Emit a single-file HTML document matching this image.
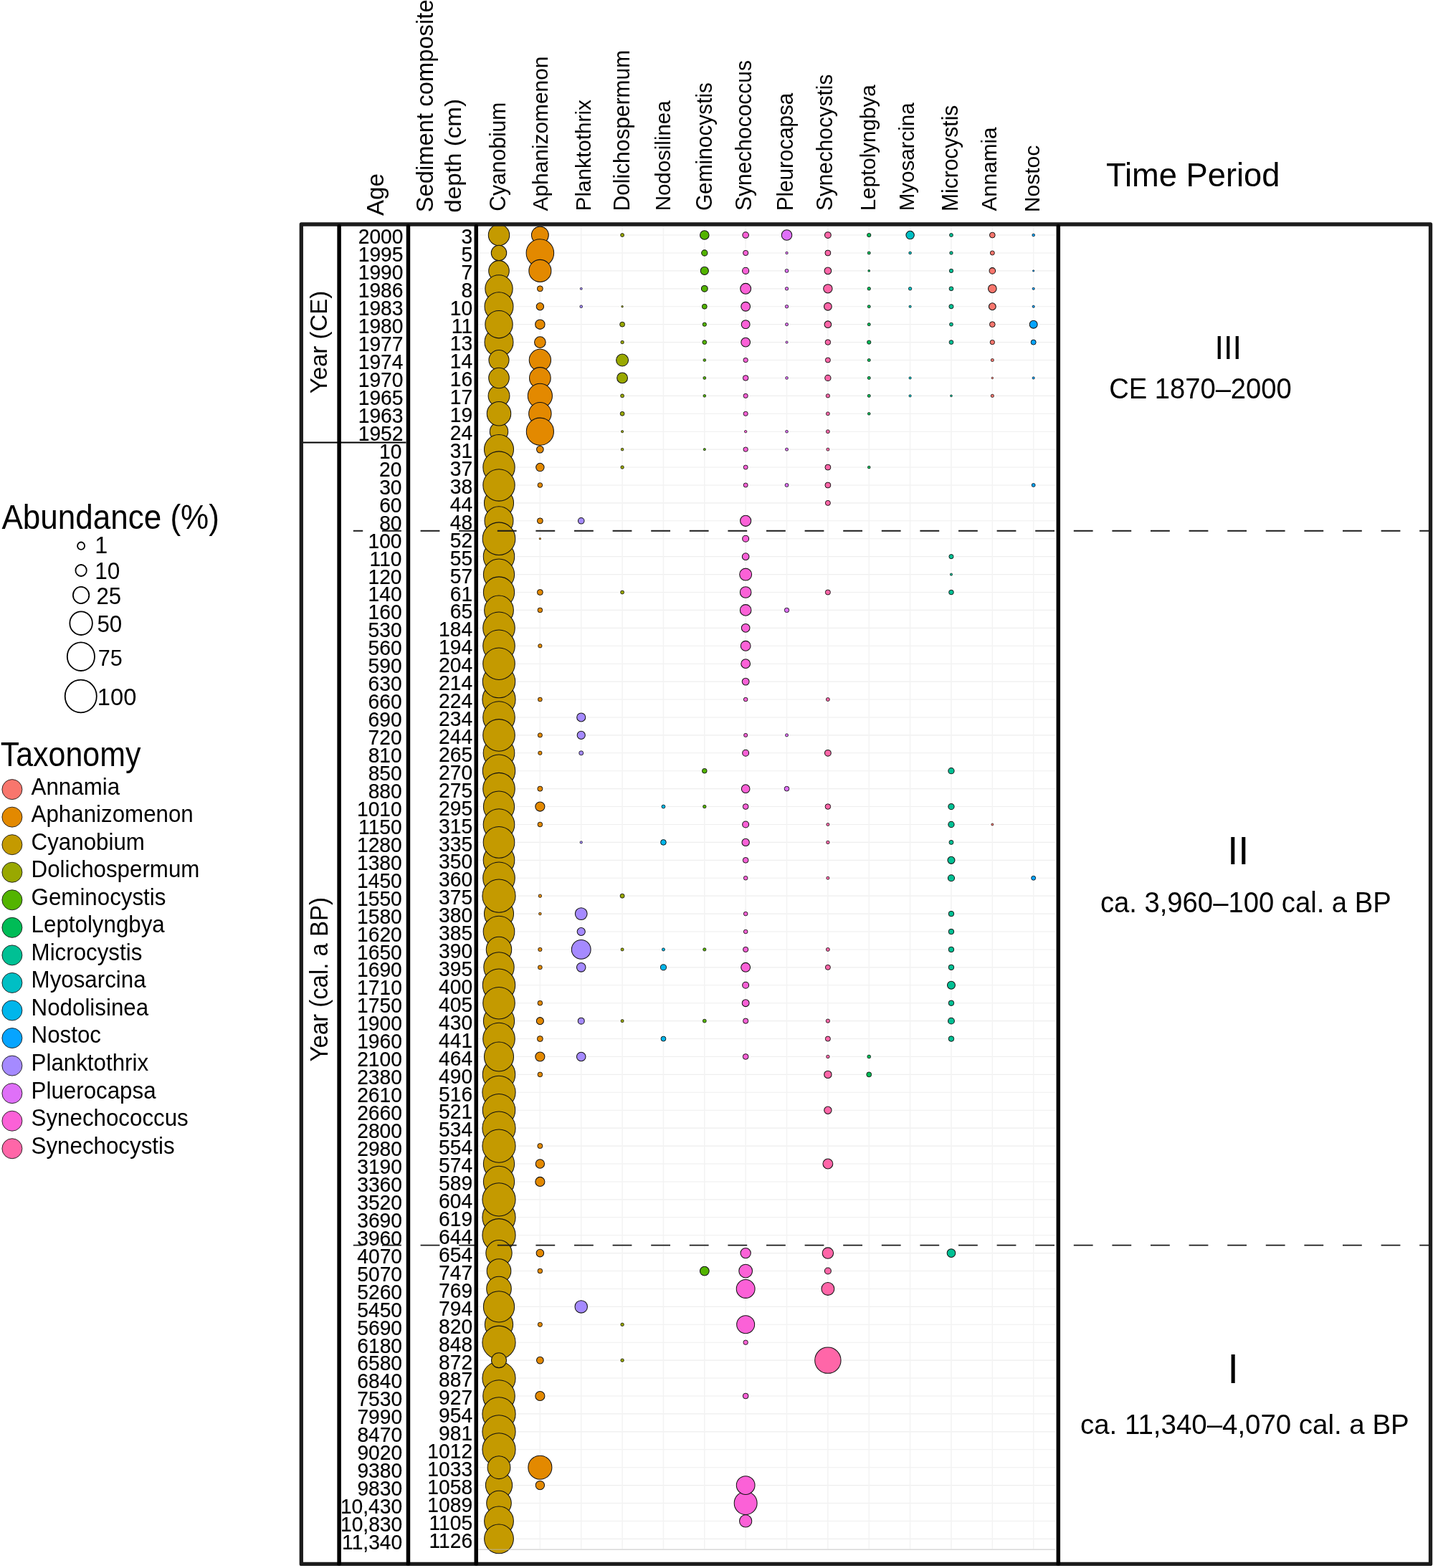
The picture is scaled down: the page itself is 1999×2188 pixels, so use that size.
<!DOCTYPE html>
<html><head><meta charset="utf-8"><title>Cyanobacteria abundance</title><style>html,body{margin:0;padding:0;background:#fff;}svg{display:block;}</style></head><body>
<svg width="1999" height="2188" viewBox="0 0 1999 2188" font-family='"Liberation Sans", Arial, Helvetica, sans-serif'>
<rect x="0" y="0" width="1999" height="2188" fill="#fff"/>
<g id="grid">
<line x1="667.5" y1="328.06" x2="1472.0" y2="328.06" stroke="#eeeeee" stroke-width="1.1"/>
<line x1="667.5" y1="352.98" x2="1472.0" y2="352.98" stroke="#eeeeee" stroke-width="1.1"/>
<line x1="667.5" y1="377.90" x2="1472.0" y2="377.90" stroke="#eeeeee" stroke-width="1.1"/>
<line x1="667.5" y1="402.83" x2="1472.0" y2="402.83" stroke="#eeeeee" stroke-width="1.1"/>
<line x1="667.5" y1="427.75" x2="1472.0" y2="427.75" stroke="#eeeeee" stroke-width="1.1"/>
<line x1="667.5" y1="452.67" x2="1472.0" y2="452.67" stroke="#eeeeee" stroke-width="1.1"/>
<line x1="667.5" y1="477.59" x2="1472.0" y2="477.59" stroke="#eeeeee" stroke-width="1.1"/>
<line x1="667.5" y1="502.51" x2="1472.0" y2="502.51" stroke="#eeeeee" stroke-width="1.1"/>
<line x1="667.5" y1="527.44" x2="1472.0" y2="527.44" stroke="#eeeeee" stroke-width="1.1"/>
<line x1="667.5" y1="552.36" x2="1472.0" y2="552.36" stroke="#eeeeee" stroke-width="1.1"/>
<line x1="667.5" y1="577.28" x2="1472.0" y2="577.28" stroke="#eeeeee" stroke-width="1.1"/>
<line x1="667.5" y1="602.20" x2="1472.0" y2="602.20" stroke="#eeeeee" stroke-width="1.1"/>
<line x1="667.5" y1="627.12" x2="1472.0" y2="627.12" stroke="#eeeeee" stroke-width="1.1"/>
<line x1="667.5" y1="652.05" x2="1472.0" y2="652.05" stroke="#eeeeee" stroke-width="1.1"/>
<line x1="667.5" y1="676.97" x2="1472.0" y2="676.97" stroke="#eeeeee" stroke-width="1.1"/>
<line x1="667.5" y1="701.89" x2="1472.0" y2="701.89" stroke="#eeeeee" stroke-width="1.1"/>
<line x1="667.5" y1="726.81" x2="1472.0" y2="726.81" stroke="#eeeeee" stroke-width="1.1"/>
<line x1="667.5" y1="751.73" x2="1472.0" y2="751.73" stroke="#eeeeee" stroke-width="1.1"/>
<line x1="667.5" y1="776.66" x2="1472.0" y2="776.66" stroke="#eeeeee" stroke-width="1.1"/>
<line x1="667.5" y1="801.58" x2="1472.0" y2="801.58" stroke="#eeeeee" stroke-width="1.1"/>
<line x1="667.5" y1="826.50" x2="1472.0" y2="826.50" stroke="#eeeeee" stroke-width="1.1"/>
<line x1="667.5" y1="851.42" x2="1472.0" y2="851.42" stroke="#eeeeee" stroke-width="1.1"/>
<line x1="667.5" y1="876.34" x2="1472.0" y2="876.34" stroke="#eeeeee" stroke-width="1.1"/>
<line x1="667.5" y1="901.27" x2="1472.0" y2="901.27" stroke="#eeeeee" stroke-width="1.1"/>
<line x1="667.5" y1="926.19" x2="1472.0" y2="926.19" stroke="#eeeeee" stroke-width="1.1"/>
<line x1="667.5" y1="951.11" x2="1472.0" y2="951.11" stroke="#eeeeee" stroke-width="1.1"/>
<line x1="667.5" y1="976.03" x2="1472.0" y2="976.03" stroke="#eeeeee" stroke-width="1.1"/>
<line x1="667.5" y1="1000.95" x2="1472.0" y2="1000.95" stroke="#eeeeee" stroke-width="1.1"/>
<line x1="667.5" y1="1025.88" x2="1472.0" y2="1025.88" stroke="#eeeeee" stroke-width="1.1"/>
<line x1="667.5" y1="1050.80" x2="1472.0" y2="1050.80" stroke="#eeeeee" stroke-width="1.1"/>
<line x1="667.5" y1="1075.72" x2="1472.0" y2="1075.72" stroke="#eeeeee" stroke-width="1.1"/>
<line x1="667.5" y1="1100.64" x2="1472.0" y2="1100.64" stroke="#eeeeee" stroke-width="1.1"/>
<line x1="667.5" y1="1125.56" x2="1472.0" y2="1125.56" stroke="#eeeeee" stroke-width="1.1"/>
<line x1="667.5" y1="1150.49" x2="1472.0" y2="1150.49" stroke="#eeeeee" stroke-width="1.1"/>
<line x1="667.5" y1="1175.41" x2="1472.0" y2="1175.41" stroke="#eeeeee" stroke-width="1.1"/>
<line x1="667.5" y1="1200.33" x2="1472.0" y2="1200.33" stroke="#eeeeee" stroke-width="1.1"/>
<line x1="667.5" y1="1225.25" x2="1472.0" y2="1225.25" stroke="#eeeeee" stroke-width="1.1"/>
<line x1="667.5" y1="1250.17" x2="1472.0" y2="1250.17" stroke="#eeeeee" stroke-width="1.1"/>
<line x1="667.5" y1="1275.10" x2="1472.0" y2="1275.10" stroke="#eeeeee" stroke-width="1.1"/>
<line x1="667.5" y1="1300.02" x2="1472.0" y2="1300.02" stroke="#eeeeee" stroke-width="1.1"/>
<line x1="667.5" y1="1324.94" x2="1472.0" y2="1324.94" stroke="#eeeeee" stroke-width="1.1"/>
<line x1="667.5" y1="1349.86" x2="1472.0" y2="1349.86" stroke="#eeeeee" stroke-width="1.1"/>
<line x1="667.5" y1="1374.78" x2="1472.0" y2="1374.78" stroke="#eeeeee" stroke-width="1.1"/>
<line x1="667.5" y1="1399.71" x2="1472.0" y2="1399.71" stroke="#eeeeee" stroke-width="1.1"/>
<line x1="667.5" y1="1424.63" x2="1472.0" y2="1424.63" stroke="#eeeeee" stroke-width="1.1"/>
<line x1="667.5" y1="1449.55" x2="1472.0" y2="1449.55" stroke="#eeeeee" stroke-width="1.1"/>
<line x1="667.5" y1="1474.47" x2="1472.0" y2="1474.47" stroke="#eeeeee" stroke-width="1.1"/>
<line x1="667.5" y1="1499.39" x2="1472.0" y2="1499.39" stroke="#eeeeee" stroke-width="1.1"/>
<line x1="667.5" y1="1524.32" x2="1472.0" y2="1524.32" stroke="#eeeeee" stroke-width="1.1"/>
<line x1="667.5" y1="1549.24" x2="1472.0" y2="1549.24" stroke="#eeeeee" stroke-width="1.1"/>
<line x1="667.5" y1="1574.16" x2="1472.0" y2="1574.16" stroke="#eeeeee" stroke-width="1.1"/>
<line x1="667.5" y1="1599.08" x2="1472.0" y2="1599.08" stroke="#eeeeee" stroke-width="1.1"/>
<line x1="667.5" y1="1624.00" x2="1472.0" y2="1624.00" stroke="#eeeeee" stroke-width="1.1"/>
<line x1="667.5" y1="1648.93" x2="1472.0" y2="1648.93" stroke="#eeeeee" stroke-width="1.1"/>
<line x1="667.5" y1="1673.85" x2="1472.0" y2="1673.85" stroke="#eeeeee" stroke-width="1.1"/>
<line x1="667.5" y1="1698.77" x2="1472.0" y2="1698.77" stroke="#eeeeee" stroke-width="1.1"/>
<line x1="667.5" y1="1723.69" x2="1472.0" y2="1723.69" stroke="#eeeeee" stroke-width="1.1"/>
<line x1="667.5" y1="1748.61" x2="1472.0" y2="1748.61" stroke="#eeeeee" stroke-width="1.1"/>
<line x1="667.5" y1="1773.54" x2="1472.0" y2="1773.54" stroke="#eeeeee" stroke-width="1.1"/>
<line x1="667.5" y1="1798.46" x2="1472.0" y2="1798.46" stroke="#eeeeee" stroke-width="1.1"/>
<line x1="667.5" y1="1823.38" x2="1472.0" y2="1823.38" stroke="#eeeeee" stroke-width="1.1"/>
<line x1="667.5" y1="1848.30" x2="1472.0" y2="1848.30" stroke="#eeeeee" stroke-width="1.1"/>
<line x1="667.5" y1="1873.22" x2="1472.0" y2="1873.22" stroke="#eeeeee" stroke-width="1.1"/>
<line x1="667.5" y1="1898.15" x2="1472.0" y2="1898.15" stroke="#eeeeee" stroke-width="1.1"/>
<line x1="667.5" y1="1923.07" x2="1472.0" y2="1923.07" stroke="#eeeeee" stroke-width="1.1"/>
<line x1="667.5" y1="1947.99" x2="1472.0" y2="1947.99" stroke="#eeeeee" stroke-width="1.1"/>
<line x1="667.5" y1="1972.91" x2="1472.0" y2="1972.91" stroke="#eeeeee" stroke-width="1.1"/>
<line x1="667.5" y1="1997.83" x2="1472.0" y2="1997.83" stroke="#eeeeee" stroke-width="1.1"/>
<line x1="667.5" y1="2022.76" x2="1472.0" y2="2022.76" stroke="#eeeeee" stroke-width="1.1"/>
<line x1="667.5" y1="2047.68" x2="1472.0" y2="2047.68" stroke="#eeeeee" stroke-width="1.1"/>
<line x1="667.5" y1="2072.60" x2="1472.0" y2="2072.60" stroke="#eeeeee" stroke-width="1.1"/>
<line x1="667.5" y1="2097.52" x2="1472.0" y2="2097.52" stroke="#eeeeee" stroke-width="1.1"/>
<line x1="667.5" y1="2122.44" x2="1472.0" y2="2122.44" stroke="#eeeeee" stroke-width="1.1"/>
<line x1="667.5" y1="2147.37" x2="1472.0" y2="2147.37" stroke="#eeeeee" stroke-width="1.1"/>
<line x1="696.00" y1="316.0" x2="696.00" y2="2161.2" stroke="#f3f3f3" stroke-width="1.5"/>
<line x1="753.36" y1="316.0" x2="753.36" y2="2161.2" stroke="#f3f3f3" stroke-width="1.5"/>
<line x1="810.72" y1="316.0" x2="810.72" y2="2161.2" stroke="#f3f3f3" stroke-width="1.5"/>
<line x1="868.08" y1="316.0" x2="868.08" y2="2161.2" stroke="#f3f3f3" stroke-width="1.5"/>
<line x1="925.44" y1="316.0" x2="925.44" y2="2161.2" stroke="#f3f3f3" stroke-width="1.5"/>
<line x1="982.80" y1="316.0" x2="982.80" y2="2161.2" stroke="#f3f3f3" stroke-width="1.5"/>
<line x1="1040.16" y1="316.0" x2="1040.16" y2="2161.2" stroke="#f3f3f3" stroke-width="1.5"/>
<line x1="1097.52" y1="316.0" x2="1097.52" y2="2161.2" stroke="#f3f3f3" stroke-width="1.5"/>
<line x1="1154.88" y1="316.0" x2="1154.88" y2="2161.2" stroke="#f3f3f3" stroke-width="1.5"/>
<line x1="1212.24" y1="316.0" x2="1212.24" y2="2161.2" stroke="#f3f3f3" stroke-width="1.5"/>
<line x1="1269.60" y1="316.0" x2="1269.60" y2="2161.2" stroke="#f3f3f3" stroke-width="1.5"/>
<line x1="1326.96" y1="316.0" x2="1326.96" y2="2161.2" stroke="#f3f3f3" stroke-width="1.5"/>
<line x1="1384.32" y1="316.0" x2="1384.32" y2="2161.2" stroke="#f3f3f3" stroke-width="1.5"/>
<line x1="1441.68" y1="316.0" x2="1441.68" y2="2161.2" stroke="#f3f3f3" stroke-width="1.5"/>
</g>
<g id="halo" fill="#fff">
<circle cx="696.00" cy="328.06" r="17.45"/>
<circle cx="753.36" cy="328.06" r="14.65"/>
<circle cx="868.08" cy="328.06" r="5.10"/>
<circle cx="982.80" cy="328.06" r="9.00"/>
<circle cx="1040.16" cy="328.06" r="7.00"/>
<circle cx="1097.52" cy="328.06" r="10.00"/>
<circle cx="1154.88" cy="328.06" r="7.10"/>
<circle cx="1212.24" cy="328.06" r="5.30"/>
<circle cx="1269.60" cy="328.06" r="8.45"/>
<circle cx="1326.96" cy="328.06" r="5.10"/>
<circle cx="1384.32" cy="328.06" r="6.55"/>
<circle cx="1441.68" cy="328.06" r="4.45"/>
<circle cx="696.00" cy="352.98" r="13.45"/>
<circle cx="753.36" cy="352.98" r="22.00"/>
<circle cx="982.80" cy="352.98" r="6.85"/>
<circle cx="1040.16" cy="352.98" r="6.30"/>
<circle cx="1097.52" cy="352.98" r="4.30"/>
<circle cx="1154.88" cy="352.98" r="6.65"/>
<circle cx="1212.24" cy="352.98" r="4.65"/>
<circle cx="1269.60" cy="352.98" r="4.45"/>
<circle cx="1326.96" cy="352.98" r="4.85"/>
<circle cx="1384.32" cy="352.98" r="5.65"/>
<circle cx="696.00" cy="377.90" r="17.00"/>
<circle cx="753.36" cy="377.90" r="18.25"/>
<circle cx="982.80" cy="377.90" r="8.30"/>
<circle cx="1040.16" cy="377.90" r="7.30"/>
<circle cx="1097.52" cy="377.90" r="5.10"/>
<circle cx="1154.88" cy="377.90" r="7.55"/>
<circle cx="1212.24" cy="377.90" r="4.00"/>
<circle cx="1326.96" cy="377.90" r="5.30"/>
<circle cx="1384.32" cy="377.90" r="7.00"/>
<circle cx="1441.68" cy="377.90" r="3.75"/>
<circle cx="696.00" cy="402.83" r="21.90"/>
<circle cx="753.36" cy="402.83" r="6.65"/>
<circle cx="810.72" cy="402.83" r="4.10"/>
<circle cx="982.80" cy="402.83" r="7.10"/>
<circle cx="1040.16" cy="402.83" r="10.20"/>
<circle cx="1097.52" cy="402.83" r="4.85"/>
<circle cx="1154.88" cy="402.83" r="8.90"/>
<circle cx="1212.24" cy="402.83" r="4.85"/>
<circle cx="1269.60" cy="402.83" r="4.85"/>
<circle cx="1326.96" cy="402.83" r="5.55"/>
<circle cx="1384.32" cy="402.83" r="8.55"/>
<circle cx="1441.68" cy="402.83" r="4.20"/>
<circle cx="696.00" cy="427.75" r="22.70"/>
<circle cx="753.36" cy="427.75" r="7.90"/>
<circle cx="810.72" cy="427.75" r="4.45"/>
<circle cx="868.08" cy="427.75" r="3.85"/>
<circle cx="982.80" cy="427.75" r="6.10"/>
<circle cx="1040.16" cy="427.75" r="9.10"/>
<circle cx="1097.52" cy="427.75" r="4.85"/>
<circle cx="1154.88" cy="427.75" r="8.10"/>
<circle cx="1212.24" cy="427.75" r="4.65"/>
<circle cx="1269.60" cy="427.75" r="4.20"/>
<circle cx="1326.96" cy="427.75" r="5.75"/>
<circle cx="1384.32" cy="427.75" r="7.65"/>
<circle cx="1441.68" cy="427.75" r="4.20"/>
<circle cx="696.00" cy="452.67" r="21.90"/>
<circle cx="753.36" cy="452.67" r="9.45"/>
<circle cx="868.08" cy="452.67" r="6.10"/>
<circle cx="982.80" cy="452.67" r="5.30"/>
<circle cx="1040.16" cy="452.67" r="8.65"/>
<circle cx="1097.52" cy="452.67" r="4.65"/>
<circle cx="1154.88" cy="452.67" r="7.55"/>
<circle cx="1212.24" cy="452.67" r="4.65"/>
<circle cx="1326.96" cy="452.67" r="5.10"/>
<circle cx="1384.32" cy="452.67" r="6.55"/>
<circle cx="1441.68" cy="452.67" r="8.20"/>
<circle cx="696.00" cy="477.59" r="22.70"/>
<circle cx="753.36" cy="477.59" r="10.55"/>
<circle cx="868.08" cy="477.59" r="4.85"/>
<circle cx="982.80" cy="477.59" r="5.55"/>
<circle cx="1040.16" cy="477.59" r="9.10"/>
<circle cx="1097.52" cy="477.59" r="4.20"/>
<circle cx="1154.88" cy="477.59" r="6.45"/>
<circle cx="1212.24" cy="477.59" r="5.30"/>
<circle cx="1326.96" cy="477.59" r="5.55"/>
<circle cx="1384.32" cy="477.59" r="5.85"/>
<circle cx="1441.68" cy="477.59" r="6.20"/>
<circle cx="696.00" cy="502.51" r="16.80"/>
<circle cx="753.36" cy="502.51" r="17.90"/>
<circle cx="868.08" cy="502.51" r="11.20"/>
<circle cx="982.80" cy="502.51" r="4.45"/>
<circle cx="1040.16" cy="502.51" r="5.85"/>
<circle cx="1154.88" cy="502.51" r="6.20"/>
<circle cx="1212.24" cy="502.51" r="4.65"/>
<circle cx="1384.32" cy="502.51" r="4.65"/>
<circle cx="696.00" cy="527.44" r="17.00"/>
<circle cx="753.36" cy="527.44" r="17.55"/>
<circle cx="868.08" cy="527.44" r="10.10"/>
<circle cx="982.80" cy="527.44" r="4.55"/>
<circle cx="1040.16" cy="527.44" r="6.45"/>
<circle cx="1097.52" cy="527.44" r="4.45"/>
<circle cx="1154.88" cy="527.44" r="6.85"/>
<circle cx="1212.24" cy="527.44" r="4.65"/>
<circle cx="1269.60" cy="527.44" r="4.20"/>
<circle cx="1384.32" cy="527.44" r="3.85"/>
<circle cx="1441.68" cy="527.44" r="4.20"/>
<circle cx="696.00" cy="552.36" r="17.65"/>
<circle cx="753.36" cy="552.36" r="19.80"/>
<circle cx="868.08" cy="552.36" r="5.10"/>
<circle cx="982.80" cy="552.36" r="4.45"/>
<circle cx="1040.16" cy="552.36" r="5.75"/>
<circle cx="1154.88" cy="552.36" r="5.30"/>
<circle cx="1212.24" cy="552.36" r="4.65"/>
<circle cx="1269.60" cy="552.36" r="4.20"/>
<circle cx="1326.96" cy="552.36" r="4.00"/>
<circle cx="1384.32" cy="552.36" r="4.75"/>
<circle cx="696.00" cy="577.28" r="19.45"/>
<circle cx="753.36" cy="577.28" r="18.45"/>
<circle cx="868.08" cy="577.28" r="5.55"/>
<circle cx="1040.16" cy="577.28" r="5.75"/>
<circle cx="1154.88" cy="577.28" r="5.10"/>
<circle cx="1212.24" cy="577.28" r="4.45"/>
<circle cx="696.00" cy="602.20" r="15.45"/>
<circle cx="753.36" cy="602.20" r="21.80"/>
<circle cx="868.08" cy="602.20" r="4.20"/>
<circle cx="1040.16" cy="602.20" r="4.30"/>
<circle cx="1097.52" cy="602.20" r="4.45"/>
<circle cx="1154.88" cy="602.20" r="5.10"/>
<circle cx="696.00" cy="627.12" r="23.25"/>
<circle cx="753.36" cy="627.12" r="7.55"/>
<circle cx="868.08" cy="627.12" r="4.45"/>
<circle cx="982.80" cy="627.12" r="4.20"/>
<circle cx="1040.16" cy="627.12" r="5.85"/>
<circle cx="1097.52" cy="627.12" r="4.65"/>
<circle cx="1154.88" cy="627.12" r="4.65"/>
<circle cx="696.00" cy="652.05" r="24.90"/>
<circle cx="753.36" cy="652.05" r="8.45"/>
<circle cx="868.08" cy="652.05" r="4.85"/>
<circle cx="1040.16" cy="652.05" r="5.65"/>
<circle cx="1154.88" cy="652.05" r="6.65"/>
<circle cx="1212.24" cy="652.05" r="4.45"/>
<circle cx="696.00" cy="676.97" r="24.90"/>
<circle cx="753.36" cy="676.97" r="6.00"/>
<circle cx="1040.16" cy="676.97" r="5.65"/>
<circle cx="1097.52" cy="676.97" r="5.10"/>
<circle cx="1154.88" cy="676.97" r="6.65"/>
<circle cx="1441.68" cy="676.97" r="5.10"/>
<circle cx="696.00" cy="701.89" r="23.25"/>
<circle cx="1154.88" cy="701.89" r="6.20"/>
<circle cx="696.00" cy="726.81" r="22.70"/>
<circle cx="753.36" cy="726.81" r="6.65"/>
<circle cx="810.72" cy="726.81" r="7.00"/>
<circle cx="1040.16" cy="726.81" r="10.30"/>
<circle cx="696.00" cy="751.73" r="25.55"/>
<circle cx="753.36" cy="751.73" r="3.75"/>
<circle cx="1040.16" cy="751.73" r="7.20"/>
<circle cx="696.00" cy="776.66" r="24.45"/>
<circle cx="1040.16" cy="776.66" r="7.55"/>
<circle cx="1326.96" cy="776.66" r="5.75"/>
<circle cx="696.00" cy="801.58" r="24.35"/>
<circle cx="1040.16" cy="801.58" r="11.20"/>
<circle cx="1326.96" cy="801.58" r="4.20"/>
<circle cx="696.00" cy="826.50" r="24.35"/>
<circle cx="753.36" cy="826.50" r="6.65"/>
<circle cx="868.08" cy="826.50" r="5.10"/>
<circle cx="1040.16" cy="826.50" r="10.55"/>
<circle cx="1154.88" cy="826.50" r="6.20"/>
<circle cx="1326.96" cy="826.50" r="6.00"/>
<circle cx="696.00" cy="851.42" r="23.10"/>
<circle cx="753.36" cy="851.42" r="6.00"/>
<circle cx="1040.16" cy="851.42" r="10.55"/>
<circle cx="1097.52" cy="851.42" r="5.85"/>
<circle cx="696.00" cy="876.34" r="25.00"/>
<circle cx="1040.16" cy="876.34" r="8.55"/>
<circle cx="696.00" cy="901.27" r="25.00"/>
<circle cx="753.36" cy="901.27" r="5.30"/>
<circle cx="1040.16" cy="901.27" r="9.65"/>
<circle cx="696.00" cy="926.19" r="25.00"/>
<circle cx="1040.16" cy="926.19" r="9.10"/>
<circle cx="696.00" cy="951.11" r="25.45"/>
<circle cx="1040.16" cy="951.11" r="7.65"/>
<circle cx="696.00" cy="976.03" r="25.80"/>
<circle cx="753.36" cy="976.03" r="5.55"/>
<circle cx="1040.16" cy="976.03" r="5.45"/>
<circle cx="1154.88" cy="976.03" r="5.10"/>
<circle cx="696.00" cy="1000.95" r="25.00"/>
<circle cx="810.72" cy="1000.95" r="8.75"/>
<circle cx="696.00" cy="1025.88" r="25.00"/>
<circle cx="753.36" cy="1025.88" r="5.75"/>
<circle cx="810.72" cy="1025.88" r="8.30"/>
<circle cx="1040.16" cy="1025.88" r="5.20"/>
<circle cx="1097.52" cy="1025.88" r="4.65"/>
<circle cx="696.00" cy="1050.80" r="24.55"/>
<circle cx="753.36" cy="1050.80" r="5.30"/>
<circle cx="810.72" cy="1050.80" r="5.65"/>
<circle cx="1040.16" cy="1050.80" r="7.20"/>
<circle cx="1154.88" cy="1050.80" r="7.10"/>
<circle cx="696.00" cy="1075.72" r="25.45"/>
<circle cx="982.80" cy="1075.72" r="6.00"/>
<circle cx="1326.96" cy="1075.72" r="6.85"/>
<circle cx="696.00" cy="1100.64" r="25.00"/>
<circle cx="753.36" cy="1100.64" r="6.20"/>
<circle cx="1040.16" cy="1100.64" r="8.55"/>
<circle cx="1097.52" cy="1100.64" r="6.00"/>
<circle cx="696.00" cy="1125.56" r="24.35"/>
<circle cx="753.36" cy="1125.56" r="9.30"/>
<circle cx="925.44" cy="1125.56" r="5.10"/>
<circle cx="982.80" cy="1125.56" r="4.85"/>
<circle cx="1040.16" cy="1125.56" r="6.55"/>
<circle cx="1154.88" cy="1125.56" r="6.45"/>
<circle cx="1326.96" cy="1125.56" r="6.85"/>
<circle cx="696.00" cy="1150.49" r="24.55"/>
<circle cx="753.36" cy="1150.49" r="6.00"/>
<circle cx="1040.16" cy="1150.49" r="7.20"/>
<circle cx="1154.88" cy="1150.49" r="4.65"/>
<circle cx="1326.96" cy="1150.49" r="6.85"/>
<circle cx="1384.32" cy="1150.49" r="4.10"/>
<circle cx="696.00" cy="1175.41" r="24.55"/>
<circle cx="810.72" cy="1175.41" r="4.30"/>
<circle cx="925.44" cy="1175.41" r="6.55"/>
<circle cx="1040.16" cy="1175.41" r="7.90"/>
<circle cx="1154.88" cy="1175.41" r="4.85"/>
<circle cx="1326.96" cy="1175.41" r="5.65"/>
<circle cx="696.00" cy="1200.33" r="24.55"/>
<circle cx="1040.16" cy="1200.33" r="6.55"/>
<circle cx="1326.96" cy="1200.33" r="7.75"/>
<circle cx="696.00" cy="1225.25" r="25.00"/>
<circle cx="1040.16" cy="1225.25" r="5.45"/>
<circle cx="1154.88" cy="1225.25" r="4.65"/>
<circle cx="1326.96" cy="1225.25" r="7.30"/>
<circle cx="1441.68" cy="1225.25" r="5.65"/>
<circle cx="696.00" cy="1250.17" r="25.80"/>
<circle cx="753.36" cy="1250.17" r="4.85"/>
<circle cx="868.08" cy="1250.17" r="5.65"/>
<circle cx="696.00" cy="1275.10" r="23.25"/>
<circle cx="753.36" cy="1275.10" r="4.45"/>
<circle cx="810.72" cy="1275.10" r="11.10"/>
<circle cx="1040.16" cy="1275.10" r="5.45"/>
<circle cx="1326.96" cy="1275.10" r="6.45"/>
<circle cx="696.00" cy="1300.02" r="24.55"/>
<circle cx="810.72" cy="1300.02" r="8.30"/>
<circle cx="1040.16" cy="1300.02" r="5.45"/>
<circle cx="1326.96" cy="1300.02" r="6.45"/>
<circle cx="696.00" cy="1324.94" r="20.45"/>
<circle cx="753.36" cy="1324.94" r="5.30"/>
<circle cx="810.72" cy="1324.94" r="16.10"/>
<circle cx="868.08" cy="1324.94" r="4.65"/>
<circle cx="925.44" cy="1324.94" r="4.65"/>
<circle cx="982.80" cy="1324.94" r="4.75"/>
<circle cx="1040.16" cy="1324.94" r="6.30"/>
<circle cx="1154.88" cy="1324.94" r="5.10"/>
<circle cx="1326.96" cy="1324.94" r="6.45"/>
<circle cx="696.00" cy="1349.86" r="23.90"/>
<circle cx="753.36" cy="1349.86" r="5.55"/>
<circle cx="810.72" cy="1349.86" r="9.00"/>
<circle cx="925.44" cy="1349.86" r="6.75"/>
<circle cx="1040.16" cy="1349.86" r="9.20"/>
<circle cx="1154.88" cy="1349.86" r="6.20"/>
<circle cx="1326.96" cy="1349.86" r="6.45"/>
<circle cx="696.00" cy="1374.78" r="25.45"/>
<circle cx="1040.16" cy="1374.78" r="7.20"/>
<circle cx="1326.96" cy="1374.78" r="8.20"/>
<circle cx="696.00" cy="1399.71" r="25.00"/>
<circle cx="753.36" cy="1399.71" r="6.00"/>
<circle cx="1040.16" cy="1399.71" r="7.65"/>
<circle cx="1326.96" cy="1399.71" r="6.45"/>
<circle cx="696.00" cy="1424.63" r="24.35"/>
<circle cx="753.36" cy="1424.63" r="7.75"/>
<circle cx="810.72" cy="1424.63" r="7.20"/>
<circle cx="868.08" cy="1424.63" r="4.65"/>
<circle cx="982.80" cy="1424.63" r="5.10"/>
<circle cx="1040.16" cy="1424.63" r="6.30"/>
<circle cx="1154.88" cy="1424.63" r="5.30"/>
<circle cx="1326.96" cy="1424.63" r="7.10"/>
<circle cx="696.00" cy="1449.55" r="25.00"/>
<circle cx="753.36" cy="1449.55" r="6.65"/>
<circle cx="925.44" cy="1449.55" r="6.10"/>
<circle cx="1154.88" cy="1449.55" r="6.20"/>
<circle cx="1326.96" cy="1449.55" r="6.45"/>
<circle cx="696.00" cy="1474.47" r="23.25"/>
<circle cx="753.36" cy="1474.47" r="9.30"/>
<circle cx="810.72" cy="1474.47" r="9.00"/>
<circle cx="1040.16" cy="1474.47" r="6.55"/>
<circle cx="1154.88" cy="1474.47" r="4.85"/>
<circle cx="1212.24" cy="1474.47" r="5.00"/>
<circle cx="696.00" cy="1499.39" r="25.45"/>
<circle cx="753.36" cy="1499.39" r="6.00"/>
<circle cx="1154.88" cy="1499.39" r="7.90"/>
<circle cx="1212.24" cy="1499.39" r="6.10"/>
<circle cx="696.00" cy="1524.32" r="25.80"/>
<circle cx="696.00" cy="1549.24" r="25.45"/>
<circle cx="1154.88" cy="1549.24" r="7.90"/>
<circle cx="696.00" cy="1574.16" r="25.80"/>
<circle cx="696.00" cy="1599.08" r="25.80"/>
<circle cx="753.36" cy="1599.08" r="6.20"/>
<circle cx="696.00" cy="1624.00" r="24.35"/>
<circle cx="753.36" cy="1624.00" r="8.90"/>
<circle cx="1154.88" cy="1624.00" r="9.65"/>
<circle cx="696.00" cy="1648.93" r="24.35"/>
<circle cx="753.36" cy="1648.93" r="9.30"/>
<circle cx="696.00" cy="1673.85" r="25.80"/>
<circle cx="696.00" cy="1698.77" r="25.80"/>
<circle cx="696.00" cy="1723.69" r="25.80"/>
<circle cx="696.00" cy="1748.61" r="20.90"/>
<circle cx="753.36" cy="1748.61" r="8.00"/>
<circle cx="1040.16" cy="1748.61" r="9.90"/>
<circle cx="1154.88" cy="1748.61" r="10.45"/>
<circle cx="1326.96" cy="1748.61" r="8.55"/>
<circle cx="696.00" cy="1773.54" r="19.55"/>
<circle cx="753.36" cy="1773.54" r="6.00"/>
<circle cx="982.80" cy="1773.54" r="9.10"/>
<circle cx="1040.16" cy="1773.54" r="12.10"/>
<circle cx="1154.88" cy="1773.54" r="7.20"/>
<circle cx="696.00" cy="1798.46" r="20.00"/>
<circle cx="1040.16" cy="1798.46" r="15.65"/>
<circle cx="1154.88" cy="1798.46" r="11.65"/>
<circle cx="696.00" cy="1823.38" r="24.35"/>
<circle cx="810.72" cy="1823.38" r="11.45"/>
<circle cx="696.00" cy="1848.30" r="22.35"/>
<circle cx="753.36" cy="1848.30" r="5.75"/>
<circle cx="868.08" cy="1848.30" r="4.85"/>
<circle cx="1040.16" cy="1848.30" r="15.20"/>
<circle cx="696.00" cy="1873.22" r="25.80"/>
<circle cx="1040.16" cy="1873.22" r="5.85"/>
<circle cx="696.00" cy="1898.15" r="13.20"/>
<circle cx="753.36" cy="1898.15" r="7.55"/>
<circle cx="868.08" cy="1898.15" r="4.85"/>
<circle cx="1154.88" cy="1898.15" r="20.90"/>
<circle cx="696.00" cy="1923.07" r="25.80"/>
<circle cx="696.00" cy="1947.99" r="25.00"/>
<circle cx="753.36" cy="1947.99" r="9.30"/>
<circle cx="1040.16" cy="1947.99" r="6.55"/>
<circle cx="696.00" cy="1972.91" r="25.80"/>
<circle cx="696.00" cy="1997.83" r="25.80"/>
<circle cx="696.00" cy="2022.76" r="25.80"/>
<circle cx="696.00" cy="2047.68" r="18.65"/>
<circle cx="753.36" cy="2047.68" r="19.25"/>
<circle cx="696.00" cy="2072.60" r="21.35"/>
<circle cx="753.36" cy="2072.60" r="8.90"/>
<circle cx="1040.16" cy="2072.60" r="15.60"/>
<circle cx="696.00" cy="2097.52" r="20.00"/>
<circle cx="1040.16" cy="2097.52" r="18.70"/>
<circle cx="696.00" cy="2122.44" r="23.10"/>
<circle cx="1040.16" cy="2122.44" r="11.35"/>
<circle cx="696.00" cy="2147.37" r="23.10"/>
</g>
<g id="bubbles" stroke="#111" stroke-width="1.05">
<circle cx="696.00" cy="328.06" r="14.72" fill="#C49A00"/>
<circle cx="696.00" cy="352.98" r="10.72" fill="#C49A00"/>
<circle cx="696.00" cy="377.90" r="14.28" fill="#C49A00"/>
<circle cx="696.00" cy="402.83" r="19.18" fill="#C49A00"/>
<circle cx="696.00" cy="427.75" r="19.98" fill="#C49A00"/>
<circle cx="696.00" cy="477.59" r="19.98" fill="#C49A00"/>
<circle cx="696.00" cy="502.51" r="14.07" fill="#C49A00"/>
<circle cx="696.00" cy="552.36" r="14.92" fill="#C49A00"/>
<circle cx="696.00" cy="602.20" r="12.72" fill="#C49A00"/>
<circle cx="696.00" cy="627.12" r="20.53" fill="#C49A00"/>
<circle cx="696.00" cy="652.05" r="22.18" fill="#C49A00"/>
<circle cx="696.00" cy="701.89" r="20.53" fill="#C49A00"/>
<circle cx="696.00" cy="726.81" r="19.98" fill="#C49A00"/>
<circle cx="696.00" cy="776.66" r="21.73" fill="#C49A00"/>
<circle cx="696.00" cy="801.58" r="21.62" fill="#C49A00"/>
<circle cx="696.00" cy="826.50" r="21.62" fill="#C49A00"/>
<circle cx="696.00" cy="851.42" r="20.38" fill="#C49A00"/>
<circle cx="696.00" cy="876.34" r="22.28" fill="#C49A00"/>
<circle cx="696.00" cy="901.27" r="22.28" fill="#C49A00"/>
<circle cx="696.00" cy="976.03" r="23.08" fill="#C49A00"/>
<circle cx="696.00" cy="1000.95" r="22.28" fill="#C49A00"/>
<circle cx="696.00" cy="1050.80" r="21.83" fill="#C49A00"/>
<circle cx="696.00" cy="1075.72" r="22.73" fill="#C49A00"/>
<circle cx="696.00" cy="1100.64" r="22.28" fill="#C49A00"/>
<circle cx="696.00" cy="1125.56" r="21.62" fill="#C49A00"/>
<circle cx="696.00" cy="1150.49" r="21.83" fill="#C49A00"/>
<circle cx="696.00" cy="1200.33" r="21.83" fill="#C49A00"/>
<circle cx="696.00" cy="1225.25" r="22.28" fill="#C49A00"/>
<circle cx="696.00" cy="1275.10" r="20.53" fill="#C49A00"/>
<circle cx="696.00" cy="1300.02" r="21.83" fill="#C49A00"/>
<circle cx="696.00" cy="1324.94" r="17.73" fill="#C49A00"/>
<circle cx="696.00" cy="1349.86" r="21.18" fill="#C49A00"/>
<circle cx="696.00" cy="1374.78" r="22.73" fill="#C49A00"/>
<circle cx="696.00" cy="1424.63" r="21.62" fill="#C49A00"/>
<circle cx="696.00" cy="1449.55" r="22.28" fill="#C49A00"/>
<circle cx="696.00" cy="1499.39" r="22.73" fill="#C49A00"/>
<circle cx="696.00" cy="1524.32" r="23.08" fill="#C49A00"/>
<circle cx="696.00" cy="1549.24" r="22.73" fill="#C49A00"/>
<circle cx="696.00" cy="1574.16" r="23.08" fill="#C49A00"/>
<circle cx="696.00" cy="1624.00" r="21.62" fill="#C49A00"/>
<circle cx="696.00" cy="1648.93" r="21.62" fill="#C49A00"/>
<circle cx="696.00" cy="1698.77" r="23.08" fill="#C49A00"/>
<circle cx="696.00" cy="1723.69" r="23.08" fill="#C49A00"/>
<circle cx="696.00" cy="1748.61" r="18.18" fill="#C49A00"/>
<circle cx="696.00" cy="1773.54" r="16.83" fill="#C49A00"/>
<circle cx="696.00" cy="1798.46" r="17.28" fill="#C49A00"/>
<circle cx="696.00" cy="1848.30" r="19.62" fill="#C49A00"/>
<circle cx="696.00" cy="1873.22" r="23.08" fill="#C49A00"/>
<circle cx="696.00" cy="1923.07" r="23.08" fill="#C49A00"/>
<circle cx="696.00" cy="1947.99" r="22.28" fill="#C49A00"/>
<circle cx="696.00" cy="1972.91" r="23.08" fill="#C49A00"/>
<circle cx="696.00" cy="1997.83" r="23.08" fill="#C49A00"/>
<circle cx="696.00" cy="2022.76" r="23.08" fill="#C49A00"/>
<circle cx="696.00" cy="2072.60" r="18.62" fill="#C49A00"/>
<circle cx="696.00" cy="2097.52" r="17.28" fill="#C49A00"/>
<circle cx="696.00" cy="2122.44" r="20.38" fill="#C49A00"/>
<circle cx="696.00" cy="2147.37" r="20.38" fill="#C49A00"/>
<circle cx="696.00" cy="452.67" r="19.18" fill="#C49A00"/>
<circle cx="696.00" cy="527.44" r="14.28" fill="#C49A00"/>
<circle cx="696.00" cy="577.28" r="16.73" fill="#C49A00"/>
<circle cx="696.00" cy="676.97" r="22.18" fill="#C49A00"/>
<circle cx="696.00" cy="751.73" r="22.83" fill="#C49A00"/>
<circle cx="696.00" cy="951.11" r="22.73" fill="#C49A00"/>
<circle cx="696.00" cy="926.19" r="22.28" fill="#C49A00"/>
<circle cx="696.00" cy="1025.88" r="22.28" fill="#C49A00"/>
<circle cx="696.00" cy="1175.41" r="21.83" fill="#C49A00"/>
<circle cx="696.00" cy="1250.17" r="23.08" fill="#C49A00"/>
<circle cx="696.00" cy="1399.71" r="22.28" fill="#C49A00"/>
<circle cx="696.00" cy="1474.47" r="20.53" fill="#C49A00"/>
<circle cx="696.00" cy="1599.08" r="23.08" fill="#C49A00"/>
<circle cx="696.00" cy="1673.85" r="23.08" fill="#C49A00"/>
<circle cx="696.00" cy="1823.38" r="21.62" fill="#C49A00"/>
<circle cx="696.00" cy="1898.15" r="10.47" fill="#C49A00"/>
<circle cx="696.00" cy="2047.68" r="15.92" fill="#C49A00"/>
<circle cx="753.36" cy="328.06" r="11.92" fill="#E38900"/>
<circle cx="753.36" cy="352.98" r="19.28" fill="#E38900"/>
<circle cx="753.36" cy="377.90" r="15.53" fill="#E38900"/>
<circle cx="753.36" cy="402.83" r="3.96" fill="#E38900" stroke-width="0.99"/>
<circle cx="753.36" cy="427.75" r="5.17" fill="#E38900"/>
<circle cx="753.36" cy="452.67" r="6.72" fill="#E38900"/>
<circle cx="753.36" cy="477.59" r="7.82" fill="#E38900"/>
<circle cx="753.36" cy="502.51" r="15.17" fill="#E38900"/>
<circle cx="753.36" cy="527.44" r="14.82" fill="#E38900"/>
<circle cx="753.36" cy="552.36" r="17.08" fill="#E38900"/>
<circle cx="753.36" cy="577.28" r="15.72" fill="#E38900"/>
<circle cx="753.36" cy="602.20" r="19.08" fill="#E38900"/>
<circle cx="753.36" cy="627.12" r="4.82" fill="#E38900"/>
<circle cx="753.36" cy="652.05" r="5.72" fill="#E38900"/>
<circle cx="753.36" cy="676.97" r="3.34" fill="#E38900" stroke-width="0.92"/>
<circle cx="753.36" cy="726.81" r="3.96" fill="#E38900" stroke-width="0.99"/>
<circle cx="753.36" cy="751.73" r="1.21" fill="#E38900" stroke-width="0.67"/>
<circle cx="753.36" cy="826.50" r="3.96" fill="#E38900" stroke-width="0.99"/>
<circle cx="753.36" cy="851.42" r="3.34" fill="#E38900" stroke-width="0.92"/>
<circle cx="753.36" cy="901.27" r="2.68" fill="#E38900" stroke-width="0.84"/>
<circle cx="753.36" cy="976.03" r="2.92" fill="#E38900" stroke-width="0.87"/>
<circle cx="753.36" cy="1025.88" r="3.10" fill="#E38900" stroke-width="0.89"/>
<circle cx="753.36" cy="1050.80" r="2.68" fill="#E38900" stroke-width="0.84"/>
<circle cx="753.36" cy="1100.64" r="3.53" fill="#E38900" stroke-width="0.94"/>
<circle cx="753.36" cy="1125.56" r="6.57" fill="#E38900"/>
<circle cx="753.36" cy="1150.49" r="3.34" fill="#E38900" stroke-width="0.92"/>
<circle cx="753.36" cy="1250.17" r="2.25" fill="#E38900" stroke-width="0.79"/>
<circle cx="753.36" cy="1275.10" r="1.88" fill="#E38900" stroke-width="0.75"/>
<circle cx="753.36" cy="1324.94" r="2.68" fill="#E38900" stroke-width="0.84"/>
<circle cx="753.36" cy="1349.86" r="2.92" fill="#E38900" stroke-width="0.87"/>
<circle cx="753.36" cy="1399.71" r="3.34" fill="#E38900" stroke-width="0.92"/>
<circle cx="753.36" cy="1424.63" r="5.02" fill="#E38900"/>
<circle cx="753.36" cy="1449.55" r="3.96" fill="#E38900" stroke-width="0.99"/>
<circle cx="753.36" cy="1474.47" r="6.57" fill="#E38900"/>
<circle cx="753.36" cy="1499.39" r="3.34" fill="#E38900" stroke-width="0.92"/>
<circle cx="753.36" cy="1599.08" r="3.53" fill="#E38900" stroke-width="0.94"/>
<circle cx="753.36" cy="1624.00" r="6.17" fill="#E38900"/>
<circle cx="753.36" cy="1648.93" r="6.57" fill="#E38900"/>
<circle cx="753.36" cy="1748.61" r="5.27" fill="#E38900"/>
<circle cx="753.36" cy="1773.54" r="3.34" fill="#E38900" stroke-width="0.92"/>
<circle cx="753.36" cy="1848.30" r="3.10" fill="#E38900" stroke-width="0.89"/>
<circle cx="753.36" cy="1898.15" r="4.82" fill="#E38900"/>
<circle cx="753.36" cy="1947.99" r="6.57" fill="#E38900"/>
<circle cx="753.36" cy="2047.68" r="16.53" fill="#E38900"/>
<circle cx="753.36" cy="2072.60" r="6.17" fill="#E38900"/>
<circle cx="810.72" cy="402.83" r="1.55" fill="#A58AFF" stroke-width="0.71"/>
<circle cx="810.72" cy="427.75" r="1.88" fill="#A58AFF" stroke-width="0.75"/>
<circle cx="810.72" cy="726.81" r="4.29" fill="#A58AFF" stroke-width="1.03"/>
<circle cx="810.72" cy="1000.95" r="6.02" fill="#A58AFF"/>
<circle cx="810.72" cy="1025.88" r="5.57" fill="#A58AFF"/>
<circle cx="810.72" cy="1050.80" r="3.01" fill="#A58AFF" stroke-width="0.88"/>
<circle cx="810.72" cy="1175.41" r="1.73" fill="#A58AFF" stroke-width="0.73"/>
<circle cx="810.72" cy="1275.10" r="8.38" fill="#A58AFF"/>
<circle cx="810.72" cy="1300.02" r="5.57" fill="#A58AFF"/>
<circle cx="810.72" cy="1324.94" r="13.38" fill="#A58AFF"/>
<circle cx="810.72" cy="1349.86" r="6.27" fill="#A58AFF"/>
<circle cx="810.72" cy="1424.63" r="4.47" fill="#A58AFF"/>
<circle cx="810.72" cy="1474.47" r="6.27" fill="#A58AFF"/>
<circle cx="810.72" cy="1823.38" r="8.72" fill="#A58AFF"/>
<circle cx="868.08" cy="328.06" r="2.49" fill="#99A800" stroke-width="0.82"/>
<circle cx="868.08" cy="427.75" r="1.31" fill="#99A800" stroke-width="0.68"/>
<circle cx="868.08" cy="452.67" r="3.44" fill="#99A800" stroke-width="0.93"/>
<circle cx="868.08" cy="477.59" r="2.25" fill="#99A800" stroke-width="0.79"/>
<circle cx="868.08" cy="502.51" r="8.47" fill="#99A800"/>
<circle cx="868.08" cy="527.44" r="7.38" fill="#99A800"/>
<circle cx="868.08" cy="552.36" r="2.49" fill="#99A800" stroke-width="0.82"/>
<circle cx="868.08" cy="577.28" r="2.92" fill="#99A800" stroke-width="0.87"/>
<circle cx="868.08" cy="602.20" r="1.64" fill="#99A800" stroke-width="0.72"/>
<circle cx="868.08" cy="627.12" r="1.88" fill="#99A800" stroke-width="0.75"/>
<circle cx="868.08" cy="652.05" r="2.25" fill="#99A800" stroke-width="0.79"/>
<circle cx="868.08" cy="826.50" r="2.49" fill="#99A800" stroke-width="0.82"/>
<circle cx="868.08" cy="1250.17" r="3.01" fill="#99A800" stroke-width="0.88"/>
<circle cx="868.08" cy="1324.94" r="2.07" fill="#99A800" stroke-width="0.77"/>
<circle cx="868.08" cy="1424.63" r="2.07" fill="#99A800" stroke-width="0.77"/>
<circle cx="868.08" cy="1848.30" r="2.25" fill="#99A800" stroke-width="0.79"/>
<circle cx="868.08" cy="1898.15" r="2.25" fill="#99A800" stroke-width="0.79"/>
<circle cx="925.44" cy="1125.56" r="2.49" fill="#00B6EB" stroke-width="0.82"/>
<circle cx="925.44" cy="1175.41" r="3.86" fill="#00B6EB" stroke-width="0.98"/>
<circle cx="925.44" cy="1324.94" r="2.07" fill="#00B6EB" stroke-width="0.77"/>
<circle cx="925.44" cy="1349.86" r="4.05" fill="#00B6EB" stroke-width="1.00"/>
<circle cx="925.44" cy="1449.55" r="3.44" fill="#00B6EB" stroke-width="0.93"/>
<circle cx="982.80" cy="328.06" r="6.27" fill="#53B400"/>
<circle cx="982.80" cy="352.98" r="4.14" fill="#53B400" stroke-width="1.01"/>
<circle cx="982.80" cy="377.90" r="5.57" fill="#53B400"/>
<circle cx="982.80" cy="402.83" r="4.38" fill="#53B400" stroke-width="1.04"/>
<circle cx="982.80" cy="427.75" r="3.44" fill="#53B400" stroke-width="0.93"/>
<circle cx="982.80" cy="452.67" r="2.68" fill="#53B400" stroke-width="0.84"/>
<circle cx="982.80" cy="477.59" r="2.92" fill="#53B400" stroke-width="0.87"/>
<circle cx="982.80" cy="502.51" r="1.88" fill="#53B400" stroke-width="0.75"/>
<circle cx="982.80" cy="527.44" r="1.97" fill="#53B400" stroke-width="0.76"/>
<circle cx="982.80" cy="552.36" r="1.88" fill="#53B400" stroke-width="0.75"/>
<circle cx="982.80" cy="627.12" r="1.64" fill="#53B400" stroke-width="0.72"/>
<circle cx="982.80" cy="1075.72" r="3.34" fill="#53B400" stroke-width="0.92"/>
<circle cx="982.80" cy="1125.56" r="2.25" fill="#53B400" stroke-width="0.79"/>
<circle cx="982.80" cy="1324.94" r="2.16" fill="#53B400" stroke-width="0.78"/>
<circle cx="982.80" cy="1424.63" r="2.49" fill="#53B400" stroke-width="0.82"/>
<circle cx="982.80" cy="1773.54" r="6.38" fill="#53B400"/>
<circle cx="1040.16" cy="328.06" r="4.29" fill="#FB61D7" stroke-width="1.03"/>
<circle cx="1040.16" cy="352.98" r="3.62" fill="#FB61D7" stroke-width="0.95"/>
<circle cx="1040.16" cy="377.90" r="4.57" fill="#FB61D7"/>
<circle cx="1040.16" cy="402.83" r="7.47" fill="#FB61D7"/>
<circle cx="1040.16" cy="427.75" r="6.38" fill="#FB61D7"/>
<circle cx="1040.16" cy="452.67" r="5.92" fill="#FB61D7"/>
<circle cx="1040.16" cy="477.59" r="6.38" fill="#FB61D7"/>
<circle cx="1040.16" cy="502.51" r="3.20" fill="#FB61D7" stroke-width="0.90"/>
<circle cx="1040.16" cy="527.44" r="3.77" fill="#FB61D7" stroke-width="0.97"/>
<circle cx="1040.16" cy="552.36" r="3.10" fill="#FB61D7" stroke-width="0.89"/>
<circle cx="1040.16" cy="577.28" r="3.10" fill="#FB61D7" stroke-width="0.89"/>
<circle cx="1040.16" cy="602.20" r="1.73" fill="#FB61D7" stroke-width="0.73"/>
<circle cx="1040.16" cy="627.12" r="3.20" fill="#FB61D7" stroke-width="0.90"/>
<circle cx="1040.16" cy="652.05" r="3.01" fill="#FB61D7" stroke-width="0.88"/>
<circle cx="1040.16" cy="676.97" r="3.01" fill="#FB61D7" stroke-width="0.88"/>
<circle cx="1040.16" cy="726.81" r="7.57" fill="#FB61D7"/>
<circle cx="1040.16" cy="751.73" r="4.47" fill="#FB61D7"/>
<circle cx="1040.16" cy="776.66" r="4.82" fill="#FB61D7"/>
<circle cx="1040.16" cy="801.58" r="8.47" fill="#FB61D7"/>
<circle cx="1040.16" cy="826.50" r="7.82" fill="#FB61D7"/>
<circle cx="1040.16" cy="851.42" r="7.82" fill="#FB61D7"/>
<circle cx="1040.16" cy="876.34" r="5.82" fill="#FB61D7"/>
<circle cx="1040.16" cy="901.27" r="6.92" fill="#FB61D7"/>
<circle cx="1040.16" cy="926.19" r="6.38" fill="#FB61D7"/>
<circle cx="1040.16" cy="951.11" r="4.92" fill="#FB61D7"/>
<circle cx="1040.16" cy="976.03" r="2.82" fill="#FB61D7" stroke-width="0.86"/>
<circle cx="1040.16" cy="1025.88" r="2.58" fill="#FB61D7" stroke-width="0.83"/>
<circle cx="1040.16" cy="1050.80" r="4.47" fill="#FB61D7"/>
<circle cx="1040.16" cy="1100.64" r="5.82" fill="#FB61D7"/>
<circle cx="1040.16" cy="1125.56" r="3.86" fill="#FB61D7" stroke-width="0.98"/>
<circle cx="1040.16" cy="1150.49" r="4.47" fill="#FB61D7"/>
<circle cx="1040.16" cy="1175.41" r="5.17" fill="#FB61D7"/>
<circle cx="1040.16" cy="1200.33" r="3.86" fill="#FB61D7" stroke-width="0.98"/>
<circle cx="1040.16" cy="1225.25" r="2.82" fill="#FB61D7" stroke-width="0.86"/>
<circle cx="1040.16" cy="1275.10" r="2.82" fill="#FB61D7" stroke-width="0.86"/>
<circle cx="1040.16" cy="1300.02" r="2.82" fill="#FB61D7" stroke-width="0.86"/>
<circle cx="1040.16" cy="1324.94" r="3.62" fill="#FB61D7" stroke-width="0.95"/>
<circle cx="1040.16" cy="1349.86" r="6.47" fill="#FB61D7"/>
<circle cx="1040.16" cy="1374.78" r="4.47" fill="#FB61D7"/>
<circle cx="1040.16" cy="1399.71" r="4.92" fill="#FB61D7"/>
<circle cx="1040.16" cy="1424.63" r="3.62" fill="#FB61D7" stroke-width="0.95"/>
<circle cx="1040.16" cy="1474.47" r="3.86" fill="#FB61D7" stroke-width="0.98"/>
<circle cx="1040.16" cy="1748.61" r="7.17" fill="#FB61D7"/>
<circle cx="1040.16" cy="1773.54" r="9.38" fill="#FB61D7"/>
<circle cx="1040.16" cy="1798.46" r="12.92" fill="#FB61D7"/>
<circle cx="1040.16" cy="1848.30" r="12.47" fill="#FB61D7"/>
<circle cx="1040.16" cy="1873.22" r="3.20" fill="#FB61D7" stroke-width="0.90"/>
<circle cx="1040.16" cy="1947.99" r="3.86" fill="#FB61D7" stroke-width="0.98"/>
<circle cx="1040.16" cy="2097.52" r="15.97" fill="#FB61D7"/>
<circle cx="1040.16" cy="2122.44" r="8.62" fill="#FB61D7"/>
<circle cx="1040.16" cy="2072.60" r="12.88" fill="#FB61D7"/>
<circle cx="1097.52" cy="328.06" r="7.27" fill="#DF70F8"/>
<circle cx="1097.52" cy="352.98" r="1.73" fill="#DF70F8" stroke-width="0.73"/>
<circle cx="1097.52" cy="377.90" r="2.49" fill="#DF70F8" stroke-width="0.82"/>
<circle cx="1097.52" cy="402.83" r="2.25" fill="#DF70F8" stroke-width="0.79"/>
<circle cx="1097.52" cy="427.75" r="2.25" fill="#DF70F8" stroke-width="0.79"/>
<circle cx="1097.52" cy="452.67" r="2.07" fill="#DF70F8" stroke-width="0.77"/>
<circle cx="1097.52" cy="477.59" r="1.64" fill="#DF70F8" stroke-width="0.72"/>
<circle cx="1097.52" cy="527.44" r="1.88" fill="#DF70F8" stroke-width="0.75"/>
<circle cx="1097.52" cy="602.20" r="1.88" fill="#DF70F8" stroke-width="0.75"/>
<circle cx="1097.52" cy="627.12" r="2.07" fill="#DF70F8" stroke-width="0.77"/>
<circle cx="1097.52" cy="676.97" r="2.49" fill="#DF70F8" stroke-width="0.82"/>
<circle cx="1097.52" cy="851.42" r="3.20" fill="#DF70F8" stroke-width="0.90"/>
<circle cx="1097.52" cy="1025.88" r="2.07" fill="#DF70F8" stroke-width="0.77"/>
<circle cx="1097.52" cy="1100.64" r="3.34" fill="#DF70F8" stroke-width="0.92"/>
<circle cx="1154.88" cy="328.06" r="4.38" fill="#FF66A8" stroke-width="1.04"/>
<circle cx="1154.88" cy="352.98" r="3.96" fill="#FF66A8" stroke-width="0.99"/>
<circle cx="1154.88" cy="377.90" r="4.82" fill="#FF66A8"/>
<circle cx="1154.88" cy="402.83" r="6.17" fill="#FF66A8"/>
<circle cx="1154.88" cy="427.75" r="5.38" fill="#FF66A8"/>
<circle cx="1154.88" cy="452.67" r="4.82" fill="#FF66A8"/>
<circle cx="1154.88" cy="477.59" r="3.77" fill="#FF66A8" stroke-width="0.97"/>
<circle cx="1154.88" cy="502.51" r="3.53" fill="#FF66A8" stroke-width="0.94"/>
<circle cx="1154.88" cy="527.44" r="4.14" fill="#FF66A8" stroke-width="1.01"/>
<circle cx="1154.88" cy="552.36" r="2.68" fill="#FF66A8" stroke-width="0.84"/>
<circle cx="1154.88" cy="577.28" r="2.49" fill="#FF66A8" stroke-width="0.82"/>
<circle cx="1154.88" cy="602.20" r="2.49" fill="#FF66A8" stroke-width="0.82"/>
<circle cx="1154.88" cy="627.12" r="2.07" fill="#FF66A8" stroke-width="0.77"/>
<circle cx="1154.88" cy="652.05" r="3.96" fill="#FF66A8" stroke-width="0.99"/>
<circle cx="1154.88" cy="676.97" r="3.96" fill="#FF66A8" stroke-width="0.99"/>
<circle cx="1154.88" cy="701.89" r="3.53" fill="#FF66A8" stroke-width="0.94"/>
<circle cx="1154.88" cy="826.50" r="3.53" fill="#FF66A8" stroke-width="0.94"/>
<circle cx="1154.88" cy="976.03" r="2.49" fill="#FF66A8" stroke-width="0.82"/>
<circle cx="1154.88" cy="1050.80" r="4.38" fill="#FF66A8" stroke-width="1.04"/>
<circle cx="1154.88" cy="1125.56" r="3.77" fill="#FF66A8" stroke-width="0.97"/>
<circle cx="1154.88" cy="1150.49" r="2.07" fill="#FF66A8" stroke-width="0.77"/>
<circle cx="1154.88" cy="1175.41" r="2.25" fill="#FF66A8" stroke-width="0.79"/>
<circle cx="1154.88" cy="1225.25" r="2.07" fill="#FF66A8" stroke-width="0.77"/>
<circle cx="1154.88" cy="1324.94" r="2.49" fill="#FF66A8" stroke-width="0.82"/>
<circle cx="1154.88" cy="1349.86" r="3.53" fill="#FF66A8" stroke-width="0.94"/>
<circle cx="1154.88" cy="1424.63" r="2.68" fill="#FF66A8" stroke-width="0.84"/>
<circle cx="1154.88" cy="1449.55" r="3.53" fill="#FF66A8" stroke-width="0.94"/>
<circle cx="1154.88" cy="1474.47" r="2.25" fill="#FF66A8" stroke-width="0.79"/>
<circle cx="1154.88" cy="1499.39" r="5.17" fill="#FF66A8"/>
<circle cx="1154.88" cy="1549.24" r="5.17" fill="#FF66A8"/>
<circle cx="1154.88" cy="1624.00" r="6.92" fill="#FF66A8"/>
<circle cx="1154.88" cy="1748.61" r="7.72" fill="#FF66A8"/>
<circle cx="1154.88" cy="1773.54" r="4.47" fill="#FF66A8"/>
<circle cx="1154.88" cy="1798.46" r="8.92" fill="#FF66A8"/>
<circle cx="1154.88" cy="1898.15" r="18.18" fill="#FF66A8"/>
<circle cx="1212.24" cy="328.06" r="2.68" fill="#00BC56" stroke-width="0.84"/>
<circle cx="1212.24" cy="352.98" r="2.07" fill="#00BC56" stroke-width="0.77"/>
<circle cx="1212.24" cy="377.90" r="1.45" fill="#00BC56" stroke-width="0.70"/>
<circle cx="1212.24" cy="402.83" r="2.25" fill="#00BC56" stroke-width="0.79"/>
<circle cx="1212.24" cy="427.75" r="2.07" fill="#00BC56" stroke-width="0.77"/>
<circle cx="1212.24" cy="452.67" r="2.07" fill="#00BC56" stroke-width="0.77"/>
<circle cx="1212.24" cy="477.59" r="2.68" fill="#00BC56" stroke-width="0.84"/>
<circle cx="1212.24" cy="502.51" r="2.07" fill="#00BC56" stroke-width="0.77"/>
<circle cx="1212.24" cy="527.44" r="2.07" fill="#00BC56" stroke-width="0.77"/>
<circle cx="1212.24" cy="552.36" r="2.07" fill="#00BC56" stroke-width="0.77"/>
<circle cx="1212.24" cy="577.28" r="1.88" fill="#00BC56" stroke-width="0.75"/>
<circle cx="1212.24" cy="652.05" r="1.88" fill="#00BC56" stroke-width="0.75"/>
<circle cx="1212.24" cy="1474.47" r="2.40" fill="#00BC56" stroke-width="0.81"/>
<circle cx="1212.24" cy="1499.39" r="3.44" fill="#00BC56" stroke-width="0.93"/>
<circle cx="1269.60" cy="328.06" r="5.72" fill="#00BFC4"/>
<circle cx="1269.60" cy="352.98" r="1.88" fill="#00BFC4" stroke-width="0.75"/>
<circle cx="1269.60" cy="402.83" r="2.25" fill="#00BFC4" stroke-width="0.79"/>
<circle cx="1269.60" cy="427.75" r="1.64" fill="#00BFC4" stroke-width="0.72"/>
<circle cx="1269.60" cy="527.44" r="1.64" fill="#00BFC4" stroke-width="0.72"/>
<circle cx="1269.60" cy="552.36" r="1.64" fill="#00BFC4" stroke-width="0.72"/>
<circle cx="1326.96" cy="328.06" r="2.49" fill="#00C094" stroke-width="0.82"/>
<circle cx="1326.96" cy="352.98" r="2.25" fill="#00C094" stroke-width="0.79"/>
<circle cx="1326.96" cy="377.90" r="2.68" fill="#00C094" stroke-width="0.84"/>
<circle cx="1326.96" cy="402.83" r="2.92" fill="#00C094" stroke-width="0.87"/>
<circle cx="1326.96" cy="427.75" r="3.10" fill="#00C094" stroke-width="0.89"/>
<circle cx="1326.96" cy="452.67" r="2.49" fill="#00C094" stroke-width="0.82"/>
<circle cx="1326.96" cy="477.59" r="2.92" fill="#00C094" stroke-width="0.87"/>
<circle cx="1326.96" cy="552.36" r="1.45" fill="#00C094" stroke-width="0.70"/>
<circle cx="1326.96" cy="776.66" r="3.10" fill="#00C094" stroke-width="0.89"/>
<circle cx="1326.96" cy="801.58" r="1.64" fill="#00C094" stroke-width="0.72"/>
<circle cx="1326.96" cy="826.50" r="3.34" fill="#00C094" stroke-width="0.92"/>
<circle cx="1326.96" cy="1075.72" r="4.14" fill="#00C094" stroke-width="1.01"/>
<circle cx="1326.96" cy="1125.56" r="4.14" fill="#00C094" stroke-width="1.01"/>
<circle cx="1326.96" cy="1150.49" r="4.14" fill="#00C094" stroke-width="1.01"/>
<circle cx="1326.96" cy="1175.41" r="3.01" fill="#00C094" stroke-width="0.88"/>
<circle cx="1326.96" cy="1200.33" r="5.02" fill="#00C094"/>
<circle cx="1326.96" cy="1225.25" r="4.57" fill="#00C094"/>
<circle cx="1326.96" cy="1275.10" r="3.77" fill="#00C094" stroke-width="0.97"/>
<circle cx="1326.96" cy="1300.02" r="3.77" fill="#00C094" stroke-width="0.97"/>
<circle cx="1326.96" cy="1324.94" r="3.77" fill="#00C094" stroke-width="0.97"/>
<circle cx="1326.96" cy="1349.86" r="3.77" fill="#00C094" stroke-width="0.97"/>
<circle cx="1326.96" cy="1374.78" r="5.47" fill="#00C094"/>
<circle cx="1326.96" cy="1399.71" r="3.77" fill="#00C094" stroke-width="0.97"/>
<circle cx="1326.96" cy="1424.63" r="4.38" fill="#00C094" stroke-width="1.04"/>
<circle cx="1326.96" cy="1449.55" r="3.77" fill="#00C094" stroke-width="0.97"/>
<circle cx="1326.96" cy="1748.61" r="5.82" fill="#00C094"/>
<circle cx="1384.32" cy="328.06" r="3.86" fill="#F8766D" stroke-width="0.98"/>
<circle cx="1384.32" cy="352.98" r="3.01" fill="#F8766D" stroke-width="0.88"/>
<circle cx="1384.32" cy="377.90" r="4.29" fill="#F8766D" stroke-width="1.03"/>
<circle cx="1384.32" cy="402.83" r="5.82" fill="#F8766D"/>
<circle cx="1384.32" cy="427.75" r="4.92" fill="#F8766D"/>
<circle cx="1384.32" cy="452.67" r="3.86" fill="#F8766D" stroke-width="0.98"/>
<circle cx="1384.32" cy="477.59" r="3.20" fill="#F8766D" stroke-width="0.90"/>
<circle cx="1384.32" cy="502.51" r="2.07" fill="#F8766D" stroke-width="0.77"/>
<circle cx="1384.32" cy="527.44" r="1.31" fill="#F8766D" stroke-width="0.68"/>
<circle cx="1384.32" cy="552.36" r="2.16" fill="#F8766D" stroke-width="0.78"/>
<circle cx="1384.32" cy="1150.49" r="1.55" fill="#F8766D" stroke-width="0.71"/>
<circle cx="1441.68" cy="328.06" r="1.88" fill="#06A4FF" stroke-width="0.75"/>
<circle cx="1441.68" cy="377.90" r="1.21" fill="#06A4FF" stroke-width="0.67"/>
<circle cx="1441.68" cy="402.83" r="1.64" fill="#06A4FF" stroke-width="0.72"/>
<circle cx="1441.68" cy="427.75" r="1.64" fill="#06A4FF" stroke-width="0.72"/>
<circle cx="1441.68" cy="452.67" r="5.47" fill="#06A4FF"/>
<circle cx="1441.68" cy="477.59" r="3.53" fill="#06A4FF" stroke-width="0.94"/>
<circle cx="1441.68" cy="527.44" r="1.64" fill="#06A4FF" stroke-width="0.72"/>
<circle cx="1441.68" cy="676.97" r="2.49" fill="#06A4FF" stroke-width="0.82"/>
<circle cx="1441.68" cy="1225.25" r="3.01" fill="#06A4FF" stroke-width="0.88"/>
</g>
<line x1="667.5" y1="2162.2" x2="1472.0" y2="2162.2" stroke="#b8b8b8" stroke-opacity="0.55" stroke-width="1.4"/>
<g id="labels" font-size="28.2" fill="#000" stroke="#000" stroke-width="0.18" text-anchor="end">
<text transform="translate(562.47,340.40) scale(1,1.055)">2000</text>
<text transform="translate(659.07,339.90) scale(1,1.055)">3</text>
<text transform="translate(562.47,365.35) scale(1,1.055)">1995</text>
<text transform="translate(659.07,364.83) scale(1,1.055)">5</text>
<text transform="translate(562.47,390.31) scale(1,1.055)">1990</text>
<text transform="translate(659.07,389.76) scale(1,1.055)">7</text>
<text transform="translate(562.47,415.26) scale(1,1.055)">1986</text>
<text transform="translate(659.07,414.69) scale(1,1.055)">8</text>
<text transform="translate(562.47,440.21) scale(1,1.055)">1983</text>
<text transform="translate(659.07,439.62) scale(1,1.055)">10</text>
<text transform="translate(562.47,465.17) scale(1,1.055)">1980</text>
<text transform="translate(659.07,464.55) scale(1,1.055)">11</text>
<text transform="translate(562.47,490.12) scale(1,1.055)">1977</text>
<text transform="translate(659.07,489.48) scale(1,1.055)">13</text>
<text transform="translate(562.47,515.07) scale(1,1.055)">1974</text>
<text transform="translate(659.07,514.41) scale(1,1.055)">14</text>
<text transform="translate(562.47,540.03) scale(1,1.055)">1970</text>
<text transform="translate(659.07,539.34) scale(1,1.055)">16</text>
<text transform="translate(562.47,564.98) scale(1,1.055)">1965</text>
<text transform="translate(659.07,564.27) scale(1,1.055)">17</text>
<text transform="translate(562.47,589.93) scale(1,1.055)">1963</text>
<text transform="translate(659.07,589.20) scale(1,1.055)">19</text>
<text transform="translate(562.47,614.89) scale(1,1.055)">1952</text>
<text transform="translate(659.07,614.13) scale(1,1.055)">24</text>
<text transform="translate(560.47,639.84) scale(1,1.055)">10</text>
<text transform="translate(659.07,639.06) scale(1,1.055)">31</text>
<text transform="translate(560.48,664.79) scale(1,1.055)">20</text>
<text transform="translate(659.07,663.99) scale(1,1.055)">37</text>
<text transform="translate(560.49,689.75) scale(1,1.055)">30</text>
<text transform="translate(659.07,688.92) scale(1,1.055)">38</text>
<text transform="translate(560.50,714.70) scale(1,1.055)">60</text>
<text transform="translate(659.07,713.85) scale(1,1.055)">44</text>
<text transform="translate(560.51,739.65) scale(1,1.055)">80</text>
<text transform="translate(659.07,738.78) scale(1,1.055)">48</text>
<text transform="translate(560.53,764.61) scale(1,1.055)">100</text>
<text transform="translate(659.07,763.71) scale(1,1.055)">52</text>
<text transform="translate(560.54,789.56) scale(1,1.055)">110</text>
<text transform="translate(659.07,788.64) scale(1,1.055)">55</text>
<text transform="translate(560.55,814.52) scale(1,1.055)">120</text>
<text transform="translate(659.07,813.57) scale(1,1.055)">57</text>
<text transform="translate(560.56,839.47) scale(1,1.055)">140</text>
<text transform="translate(659.07,838.50) scale(1,1.055)">61</text>
<text transform="translate(560.57,864.42) scale(1,1.055)">160</text>
<text transform="translate(659.07,863.43) scale(1,1.055)">65</text>
<text transform="translate(560.58,889.38) scale(1,1.055)">530</text>
<text transform="translate(659.07,888.36) scale(1,1.055)">184</text>
<text transform="translate(560.60,914.33) scale(1,1.055)">560</text>
<text transform="translate(659.07,913.29) scale(1,1.055)">194</text>
<text transform="translate(560.61,939.28) scale(1,1.055)">590</text>
<text transform="translate(659.07,938.22) scale(1,1.055)">204</text>
<text transform="translate(560.62,964.24) scale(1,1.055)">630</text>
<text transform="translate(659.07,963.15) scale(1,1.055)">214</text>
<text transform="translate(560.63,989.19) scale(1,1.055)">660</text>
<text transform="translate(659.07,988.08) scale(1,1.055)">224</text>
<text transform="translate(560.64,1014.14) scale(1,1.055)">690</text>
<text transform="translate(659.07,1013.01) scale(1,1.055)">234</text>
<text transform="translate(560.65,1039.10) scale(1,1.055)">720</text>
<text transform="translate(659.07,1037.94) scale(1,1.055)">244</text>
<text transform="translate(560.66,1064.05) scale(1,1.055)">810</text>
<text transform="translate(659.07,1062.87) scale(1,1.055)">265</text>
<text transform="translate(560.68,1089.00) scale(1,1.055)">850</text>
<text transform="translate(659.07,1087.80) scale(1,1.055)">270</text>
<text transform="translate(560.69,1113.96) scale(1,1.055)">880</text>
<text transform="translate(659.07,1112.73) scale(1,1.055)">275</text>
<text transform="translate(560.70,1138.91) scale(1,1.055)">1010</text>
<text transform="translate(659.07,1137.66) scale(1,1.055)">295</text>
<text transform="translate(560.71,1163.86) scale(1,1.055)">1150</text>
<text transform="translate(659.07,1162.59) scale(1,1.055)">315</text>
<text transform="translate(560.72,1188.82) scale(1,1.055)">1280</text>
<text transform="translate(659.07,1187.52) scale(1,1.055)">335</text>
<text transform="translate(560.73,1213.77) scale(1,1.055)">1380</text>
<text transform="translate(659.07,1212.45) scale(1,1.055)">350</text>
<text transform="translate(560.74,1238.72) scale(1,1.055)">1450</text>
<text transform="translate(659.07,1237.38) scale(1,1.055)">360</text>
<text transform="translate(560.76,1263.68) scale(1,1.055)">1550</text>
<text transform="translate(659.07,1262.32) scale(1,1.055)">375</text>
<text transform="translate(560.77,1288.63) scale(1,1.055)">1580</text>
<text transform="translate(659.07,1287.25) scale(1,1.055)">380</text>
<text transform="translate(560.78,1313.58) scale(1,1.055)">1620</text>
<text transform="translate(659.07,1312.18) scale(1,1.055)">385</text>
<text transform="translate(560.79,1338.54) scale(1,1.055)">1650</text>
<text transform="translate(659.07,1337.11) scale(1,1.055)">390</text>
<text transform="translate(560.80,1363.49) scale(1,1.055)">1690</text>
<text transform="translate(659.07,1362.04) scale(1,1.055)">395</text>
<text transform="translate(560.81,1388.44) scale(1,1.055)">1710</text>
<text transform="translate(659.07,1386.97) scale(1,1.055)">400</text>
<text transform="translate(560.82,1413.40) scale(1,1.055)">1750</text>
<text transform="translate(659.07,1411.90) scale(1,1.055)">405</text>
<text transform="translate(560.84,1438.35) scale(1,1.055)">1900</text>
<text transform="translate(659.07,1436.83) scale(1,1.055)">430</text>
<text transform="translate(560.85,1463.30) scale(1,1.055)">1960</text>
<text transform="translate(659.07,1461.76) scale(1,1.055)">441</text>
<text transform="translate(560.86,1488.26) scale(1,1.055)">2100</text>
<text transform="translate(659.07,1486.69) scale(1,1.055)">464</text>
<text transform="translate(560.87,1513.21) scale(1,1.055)">2380</text>
<text transform="translate(659.07,1511.62) scale(1,1.055)">490</text>
<text transform="translate(560.88,1538.16) scale(1,1.055)">2610</text>
<text transform="translate(659.07,1536.55) scale(1,1.055)">516</text>
<text transform="translate(560.89,1563.12) scale(1,1.055)">2660</text>
<text transform="translate(659.07,1561.48) scale(1,1.055)">521</text>
<text transform="translate(560.91,1588.07) scale(1,1.055)">2800</text>
<text transform="translate(659.07,1586.41) scale(1,1.055)">534</text>
<text transform="translate(560.92,1613.02) scale(1,1.055)">2980</text>
<text transform="translate(659.07,1611.34) scale(1,1.055)">554</text>
<text transform="translate(560.93,1637.98) scale(1,1.055)">3190</text>
<text transform="translate(659.07,1636.27) scale(1,1.055)">574</text>
<text transform="translate(560.94,1662.93) scale(1,1.055)">3360</text>
<text transform="translate(659.07,1661.20) scale(1,1.055)">589</text>
<text transform="translate(560.95,1687.88) scale(1,1.055)">3520</text>
<text transform="translate(659.07,1686.13) scale(1,1.055)">604</text>
<text transform="translate(560.96,1712.84) scale(1,1.055)">3690</text>
<text transform="translate(659.07,1711.06) scale(1,1.055)">619</text>
<text transform="translate(560.97,1737.79) scale(1,1.055)">3960</text>
<text transform="translate(659.07,1735.99) scale(1,1.055)">644</text>
<text transform="translate(560.99,1762.75) scale(1,1.055)">4070</text>
<text transform="translate(659.07,1760.92) scale(1,1.055)">654</text>
<text transform="translate(561.00,1787.70) scale(1,1.055)">5070</text>
<text transform="translate(659.07,1785.85) scale(1,1.055)">747</text>
<text transform="translate(561.01,1812.65) scale(1,1.055)">5260</text>
<text transform="translate(659.07,1810.78) scale(1,1.055)">769</text>
<text transform="translate(561.02,1837.61) scale(1,1.055)">5450</text>
<text transform="translate(659.07,1835.71) scale(1,1.055)">794</text>
<text transform="translate(561.03,1862.56) scale(1,1.055)">5690</text>
<text transform="translate(659.07,1860.64) scale(1,1.055)">820</text>
<text transform="translate(561.04,1887.51) scale(1,1.055)">6180</text>
<text transform="translate(659.07,1885.57) scale(1,1.055)">848</text>
<text transform="translate(561.05,1912.47) scale(1,1.055)">6580</text>
<text transform="translate(659.07,1910.50) scale(1,1.055)">872</text>
<text transform="translate(561.07,1937.42) scale(1,1.055)">6840</text>
<text transform="translate(659.07,1935.43) scale(1,1.055)">887</text>
<text transform="translate(561.08,1962.37) scale(1,1.055)">7530</text>
<text transform="translate(659.07,1960.36) scale(1,1.055)">927</text>
<text transform="translate(561.09,1987.33) scale(1,1.055)">7990</text>
<text transform="translate(659.07,1985.29) scale(1,1.055)">954</text>
<text transform="translate(561.10,2012.28) scale(1,1.055)">8470</text>
<text transform="translate(659.07,2010.22) scale(1,1.055)">981</text>
<text transform="translate(561.11,2037.23) scale(1,1.055)">9020</text>
<text transform="translate(659.07,2035.15) scale(1,1.055)">1012</text>
<text transform="translate(561.12,2062.19) scale(1,1.055)">9380</text>
<text transform="translate(659.07,2060.08) scale(1,1.055)">1033</text>
<text transform="translate(561.13,2087.14) scale(1,1.055)">9830</text>
<text transform="translate(659.07,2085.01) scale(1,1.055)">1058</text>
<text transform="translate(561.15,2112.09) scale(1,1.055)">10,430</text>
<text transform="translate(659.07,2109.94) scale(1,1.055)">1089</text>
<text transform="translate(561.16,2137.05) scale(1,1.055)">10,830</text>
<text transform="translate(659.07,2134.87) scale(1,1.055)">1105</text>
<text transform="translate(561.17,2162.00) scale(1,1.055)">11,340</text>
<text transform="translate(659.07,2159.80) scale(1,1.055)">1126</text>
</g>
<line x1="492.8" y1="740.7" x2="1993" y2="740.7" stroke="#1a1a1a" stroke-width="1.9" stroke-dasharray="26.8 26.8" stroke-dashoffset="13.4"/>
<line x1="492.8" y1="1737.6" x2="1993" y2="1737.6" stroke="#1a1a1a" stroke-width="1.9" stroke-dasharray="26.8 26.8" stroke-dashoffset="13.4"/>
<rect x="420.3" y="313" width="1575.2" height="1869.4" fill="none" stroke="#1c1c1c" stroke-width="5.3" stroke-linejoin="round"/>
<line x1="473.1" y1="315.8" x2="473.1" y2="2182.2" stroke="#000" stroke-width="5.5" stroke-linecap="round"/>
<line x1="569.45" y1="315.8" x2="569.45" y2="2182.2" stroke="#000" stroke-width="5.5" stroke-linecap="round"/>
<line x1="664.25" y1="315.8" x2="664.25" y2="2182.2" stroke="#000" stroke-width="5.5" stroke-linecap="round"/>
<line x1="1476.3" y1="315.8" x2="1476.3" y2="2182.2" stroke="#000" stroke-width="5.5" stroke-linecap="round"/>
<line x1="423" y1="617.5" x2="566.5" y2="617.5" stroke="#000" stroke-width="1.8"/>
<text transform="translate(456.40,549.33) rotate(-90) scale(1,1.0317)" font-size="33.01">Year (CE)</text>
<text transform="translate(456.90,1481.52) rotate(-90) scale(1,1.0517)" font-size="32.94">Year (cal. a BP)</text>
<text transform="translate(535.20,300.97) rotate(-90) scale(1,1.0195)" font-size="33.12">Age</text>
<text transform="translate(604.20,296.27) rotate(-90) scale(1,0.9932)" font-size="32.78">Sediment composite</text>
<text transform="translate(643.30,296.73) rotate(-90) scale(1,0.9668)" font-size="33.24">depth (cm)</text>
<text transform="translate(705.20,294.70) rotate(-90) scale(1,1.0173)" font-size="30.06">Cyanobium</text>
<text transform="translate(763.75,294.45) rotate(-90) scale(1,1.0117)" font-size="29.87">Aphanizomenon</text>
<text transform="translate(823.70,294.38) rotate(-90) scale(1,1.0186)" font-size="29.74">Planktothrix</text>
<text transform="translate(878.40,294.39) rotate(-90) scale(1,1.0219)" font-size="29.93">Dolichospermum</text>
<text transform="translate(934.80,294.36) rotate(-90) scale(1,1.0273)" font-size="29.48">Nodosilinea</text>
<text transform="translate(993.00,294.09) rotate(-90) scale(1,1.0291)" font-size="29.86">Geminocystis</text>
<text transform="translate(1047.90,293.95) rotate(-90) scale(1,1.0491)" font-size="29.98">Synechococcus</text>
<text transform="translate(1105.90,294.37) rotate(-90) scale(1,1.0276)" font-size="29.62">Pleurocapsa</text>
<text transform="translate(1160.80,293.94) rotate(-90) scale(1,1.0464)" font-size="29.78">Synechocystis</text>
<text transform="translate(1220.50,294.37) rotate(-90) scale(1,1.0132)" font-size="29.61">Leptolyngbya</text>
<text transform="translate(1275.40,294.36) rotate(-90) scale(1,1.0253)" font-size="29.54">Myosarcina</text>
<text transform="translate(1335.50,295.00) rotate(-90) scale(1,1.0242)" font-size="30.00">Microcystis</text>
<text transform="translate(1389.80,294.45) rotate(-90) scale(1,1.0022)" font-size="29.64">Annamia</text>
<text transform="translate(1449.90,296.20) rotate(-90) scale(1,1.0080)" font-size="30.05">Nostoc</text>
<text transform="translate(1543.09,259.90) scale(1,1.0211)" font-size="45.28">Time Period</text>
<text transform="translate(1713.30,500.60) scale(1,1.04)" font-size="45.15" text-anchor="middle">III</text>
<text transform="translate(1547.19,556.20) scale(1,1.0596)" font-size="38.16">CE 1870–2000</text>
<text transform="translate(1727.25,1206.40) scale(1,1.04)" font-size="54.21" text-anchor="middle">II</text>
<text transform="translate(1534.88,1273.20) scale(1,1.0460)" font-size="38.24">ca. 3,960–100 cal. a BP</text>
<text transform="translate(1720.20,1930.20) scale(1,1.04)" font-size="55.04" text-anchor="middle">I</text>
<text transform="translate(1506.97,2001.20) scale(1,1.0098)" font-size="38.46">ca. 11,340–4,070 cal. a BP</text>
<text transform="translate(2.38,738.30) scale(1,1.0760)" font-size="44.04">Abundance (%)</text>
<ellipse cx="113.1" cy="761.7" rx="5.00" ry="5.20" fill="none" stroke="#000" stroke-width="1.8"/>
<text transform="translate(132.18,772.10) scale(1,1.04)" font-size="32.33">1</text>
<ellipse cx="113.1" cy="796.0" rx="7.70" ry="8.00" fill="none" stroke="#000" stroke-width="1.8"/>
<text transform="translate(132.23,807.80) scale(1,1.04)" font-size="31.63">10</text>
<ellipse cx="113.1" cy="830.5" rx="11.20" ry="11.60" fill="none" stroke="#000" stroke-width="1.8"/>
<text transform="translate(134.44,843.10) scale(1,1.04)" font-size="31.18">25</text>
<ellipse cx="113.1" cy="869.7" rx="15.75" ry="16.30" fill="none" stroke="#000" stroke-width="1.8"/>
<text transform="translate(135.45,881.90) scale(1,1.04)" font-size="31.32">50</text>
<ellipse cx="112.9" cy="916.2" rx="19.10" ry="19.80" fill="none" stroke="#000" stroke-width="1.8"/>
<text transform="translate(136.77,928.60) scale(1,1.04)" font-size="30.63">75</text>
<ellipse cx="112.75" cy="971.5" rx="22.05" ry="22.85" fill="none" stroke="#000" stroke-width="1.8"/>
<text transform="translate(135.85,984.30) scale(1,1.04)" font-size="32.69">100</text>
<text transform="translate(0.74,1069.10) scale(1,1.1005)" font-size="42.93">Taxonomy</text>
<circle cx="16.9" cy="1101.60" r="14.0" fill="#F8766D" stroke="#1a1a1a" stroke-width="0.9"/>
<text transform="translate(43.6,1108.50) scale(1,1.04)" font-size="31.3">Annamia</text>
<circle cx="16.9" cy="1140.15" r="14.0" fill="#E38900" stroke="#1a1a1a" stroke-width="0.9"/>
<text transform="translate(43.6,1147.05) scale(1,1.04)" font-size="31.3">Aphanizomenon</text>
<circle cx="16.9" cy="1178.70" r="14.0" fill="#C49A00" stroke="#1a1a1a" stroke-width="0.9"/>
<text transform="translate(43.6,1185.60) scale(1,1.04)" font-size="31.3">Cyanobium</text>
<circle cx="16.9" cy="1217.25" r="14.0" fill="#99A800" stroke="#1a1a1a" stroke-width="0.9"/>
<text transform="translate(43.6,1224.15) scale(1,1.04)" font-size="31.3">Dolichospermum</text>
<circle cx="16.9" cy="1255.80" r="14.0" fill="#53B400" stroke="#1a1a1a" stroke-width="0.9"/>
<text transform="translate(43.6,1262.70) scale(1,1.04)" font-size="31.3">Geminocystis</text>
<circle cx="16.9" cy="1294.35" r="14.0" fill="#00BC56" stroke="#1a1a1a" stroke-width="0.9"/>
<text transform="translate(43.6,1301.25) scale(1,1.04)" font-size="31.3">Leptolyngbya</text>
<circle cx="16.9" cy="1332.90" r="14.0" fill="#00C094" stroke="#1a1a1a" stroke-width="0.9"/>
<text transform="translate(43.6,1339.80) scale(1,1.04)" font-size="31.3">Microcystis</text>
<circle cx="16.9" cy="1371.45" r="14.0" fill="#00BFC4" stroke="#1a1a1a" stroke-width="0.9"/>
<text transform="translate(43.6,1378.35) scale(1,1.04)" font-size="31.3">Myosarcina</text>
<circle cx="16.9" cy="1410.00" r="14.0" fill="#00B6EB" stroke="#1a1a1a" stroke-width="0.9"/>
<text transform="translate(43.6,1416.90) scale(1,1.04)" font-size="31.3">Nodolisinea</text>
<circle cx="16.9" cy="1448.55" r="14.0" fill="#06A4FF" stroke="#1a1a1a" stroke-width="0.9"/>
<text transform="translate(43.6,1455.45) scale(1,1.04)" font-size="31.3">Nostoc</text>
<circle cx="16.9" cy="1487.10" r="14.0" fill="#A58AFF" stroke="#1a1a1a" stroke-width="0.9"/>
<text transform="translate(43.6,1494.00) scale(1,1.04)" font-size="31.3">Planktothrix</text>
<circle cx="16.9" cy="1525.65" r="14.0" fill="#DF70F8" stroke="#1a1a1a" stroke-width="0.9"/>
<text transform="translate(43.6,1532.55) scale(1,1.04)" font-size="31.3">Pluerocapsa</text>
<circle cx="16.9" cy="1564.20" r="14.0" fill="#FB61D7" stroke="#1a1a1a" stroke-width="0.9"/>
<text transform="translate(43.6,1571.10) scale(1,1.04)" font-size="31.3">Synechococcus</text>
<circle cx="16.9" cy="1602.75" r="14.0" fill="#FF66A8" stroke="#1a1a1a" stroke-width="0.9"/>
<text transform="translate(43.6,1609.65) scale(1,1.04)" font-size="31.3">Synechocystis</text>
</svg>
</body></html>
